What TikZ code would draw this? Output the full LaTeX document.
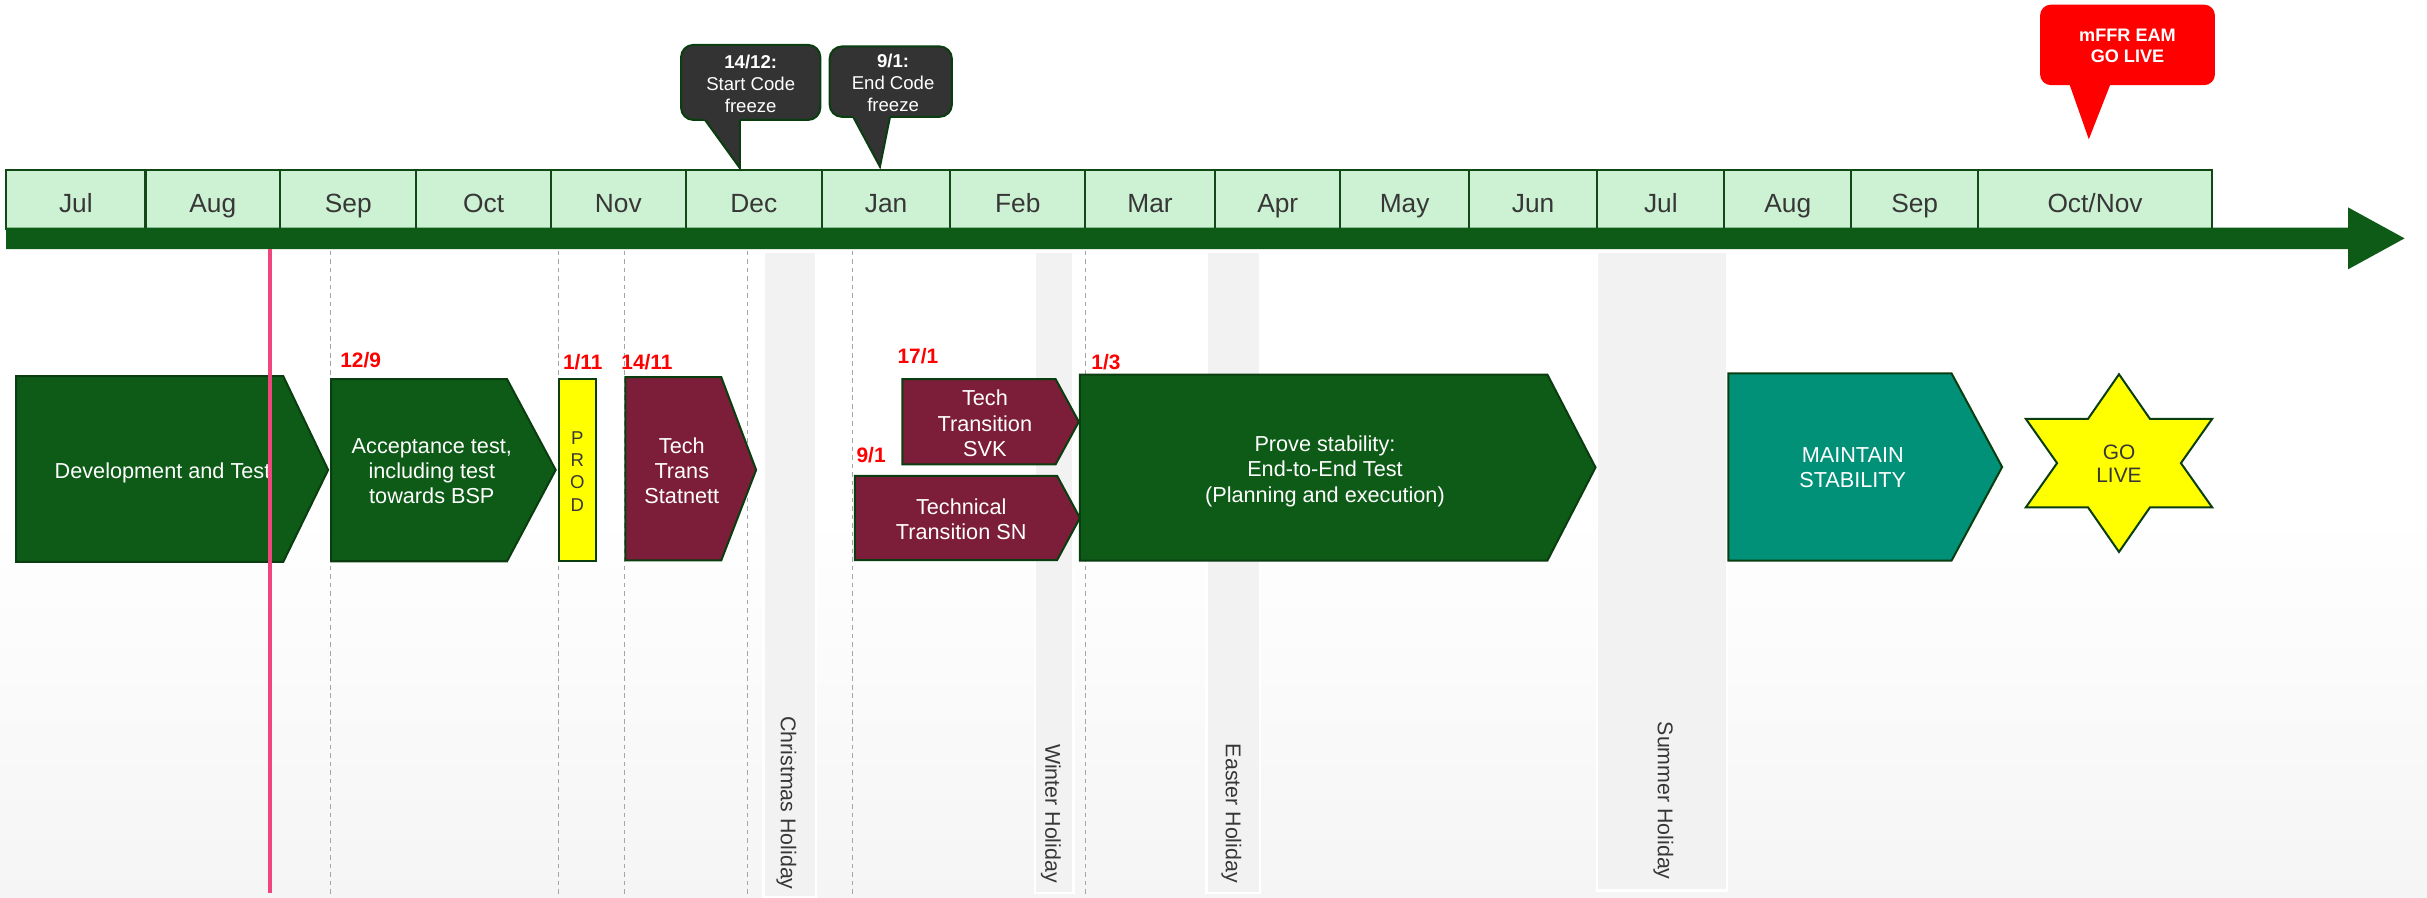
\documentclass[tikz,border=0pt]{standalone}
\usepackage{fontspec}
\setmainfont{Liberation Sans}
\definecolor{dgreen}{RGB}{13,91,23}
\definecolor{cborder}{RGB}{10,62,16}
\definecolor{maroonc}{RGB}{124,30,58}
\definecolor{tealc}{RGB}{0,145,120}
\definecolor{mfill}{RGB}{205,242,211}
\definecolor{mborder}{RGB}{18,72,22}
\definecolor{cgray}{RGB}{51,51,51}
\definecolor{pinkline}{RGB}{240,70,125}
\definecolor{holfill}{RGB}{242,242,242}
\definecolor{dashgray}{RGB}{165,165,165}
\definecolor{txtgray}{RGB}{55,55,55}
\definecolor{bggray}{RGB}{245,245,245}
\definecolor{datered}{RGB}{255,0,0}
\definecolor{yel}{RGB}{255,255,0}
\begin{document}
\begin{tikzpicture}[x=1pt,y=-1pt,
  monthbox/.style={draw=mborder,fill=mfill,line width=1.3pt,minimum height=38.5pt,inner sep=0pt},
  monthtxt/.style={font=\fontsize{17}{20}\selectfont,text=txtgray,inner sep=0pt,anchor=base},
  chevg/.style={fill=dgreen,draw=cborder,line width=1.3pt},
  chevm/.style={fill=maroonc,draw=cborder,line width=1.3pt},
  chevt/.style={fill=tealc,draw=cborder,line width=1.3pt},
  ctext/.style={text=white,font=\fontsize{14}{16.3}\selectfont,align=center,inner sep=0pt},
  datelbl/.style={text=datered,font=\bfseries\fontsize{13.5}{16}\selectfont,inner sep=0pt},
  holbar/.style={fill=holfill,draw=white,line width=1.5pt,inner sep=0pt,anchor=north west},
  holtxt/.style={text=txtgray,font=\fontsize{13.8}{16}\selectfont,inner sep=0pt,rotate=-90,anchor=east},
  dashln/.style={draw=dashgray,dash pattern=on 3pt off 2.5pt,line width=0.6pt},
  callbox/.style={fill=cgray,draw=cborder,line width=1.3pt,rounded corners=8pt,inner sep=0pt},
  calltxt/.style={text=white,font=\fontsize{12}{14.3}\selectfont,align=center,inner sep=0pt},
  darktxt/.style={text=txtgray,align=center,inner sep=0pt},
]
\useasboundingbox (0,0) rectangle (1568,580);
\fill[white] (0,0) rectangle (1568,580);
\shade[top color=white,bottom color=bggray] (0,330) rectangle (1568,580);

% holiday bars
\node[holbar,minimum width=34pt,minimum height=417pt] (hx) at (492.5,162) {};
\node[holtxt] (hxt) at (508,575) {Christmas Holiday};
\node[holbar,minimum width=25pt,minimum height=414pt] (hw) at (667.7,162) {};
\node[holtxt] (hwt) at (679,570.6) {Winter Holiday};
\node[holbar,minimum width=34.5pt,minimum height=414pt] (he) at (778.7,162) {};
\node[holtxt] (het) at (795.5,570.6) {Easter Holiday};
\node[holbar,minimum width=84pt,minimum height=412.5pt] (hs) at (1031,162) {};
\node[holtxt] (hst) at (1074.6,568.5) {Summer Holiday};

% dashed guide lines
\foreach \xx in {213.8,361,403.6,483.2,551,701.3}
  \draw[dashln] (\xx,162) -- (\xx,578);

% month boxes
\foreach \l/\r/\t [count=\i] in {4/94/Jul,94/181/Aug,181/269/Sep,269/356/Oct,356/443/Nov,443/531/Dec,531/614/Jan,614/701/Feb,701/785/Mar,785/866/Apr,866/949/May,949/1032/Jun,1032/1114/Jul,1114/1196/Aug,1196/1278/Sep,1278/1429/{Oct/Nov}}{
  \pgfmathsetmacro\w{\r-\l}
  \pgfmathsetmacro\c{(\l+\r)/2}
  \node[monthbox,minimum width=\w pt] (m\i) at (\c,128.8) {};
  \node[monthtxt] (mt\i) at (\c,137.5) {\t};
}

% time axis arrow
\fill[dgreen] (4,147) -- (1517,147) -- (1517,134) -- (1553.5,154) -- (1517,174) -- (1517,161) -- (4,161) -- cycle;

% callouts
\node[callbox,minimum width=90pt,minimum height=48.5pt] (cb1) at (485,53.25) {};
\fill[cgray] (454.3,76) -- (478,76) -- (478,108.6) -- cycle;
\draw[cborder,line width=1.3pt,line join=miter] (455.5,77.5) -- (478,108.6) -- (478,77.5);
\node[calltxt] (ct1) at (485,54) {\textbf{14/12:}\\Start Code\\freeze};

\node[callbox,minimum width=79pt,minimum height=45.5pt] (cb2) at (575.5,52.75) {};
\fill[cgray] (550.3,74) -- (575,74) -- (568.5,107.7) -- cycle;
\draw[cborder,line width=1.3pt,line join=miter] (551.2,75.5) -- (568.5,107.7) -- (575,75.5);
\node[calltxt] (ct2) at (577,53.5) {\textbf{9/1:}\\End Code\\freeze};

\node[fill=datered,rounded corners=7pt,minimum width=113pt,minimum height=52pt,inner sep=0pt] (cb3) at (1374.5,29) {};
\fill[datered] (1336.5,53) -- (1364,53) -- (1349.5,90) -- cycle;
\node[text=white,font=\bfseries\fontsize{11.7}{14}\selectfont,align=center,inner sep=0pt] (ct3) at (1374.5,29.7) {mFFR EAM\\GO LIVE};

% phases
\draw[chevg] (10.4,243) -- (183,243) -- (212,303.6) -- (183,363) -- (10.4,363) -- cycle;
\node[ctext] (dev) at (105,305.2) {Development and Test};

\draw[chevg] (214,245) -- (327.6,245) -- (359,303.6) -- (327.6,362.6) -- (214,362.6) -- cycle;
\node[ctext] (acc) at (279,304.5) {Acceptance test,\\including test\\towards BSP};

\node[draw=cborder,fill=yel,line width=1.3pt,minimum width=24pt,minimum height=117.5pt,inner sep=0pt] (prod) at (373,303.8) {};
\node[darktxt,font=\fontsize{12}{14.4}\selectfont] (prodt) at (373,304.5) {P\\R\\O\\D};

\draw[chevm] (404,243.7) -- (466,243.7) -- (488.5,303.6) -- (466,362) -- (404,362) -- cycle;
\node[ctext] (stat) at (440.5,304) {Tech\\Trans\\Statnett};

\draw[chevm] (583,245) -- (682,245) -- (697,272.5) -- (682,300) -- (583,300) -- cycle;
\node[ctext] (svk) at (636.3,273.5) {Tech\\Transition\\SVK};

\draw[chevm] (552.3,307.5) -- (683,307.5) -- (697.7,334.6) -- (683,361.8) -- (552.3,361.8) -- cycle;
\node[ctext] (sn) at (621,335.4) {Technical\\Transition SN};

\draw[chevg] (697.7,242) -- (999.7,242) -- (1030.8,302) -- (999.7,362.2) -- (697.7,362.2) -- cycle;
\node[ctext] (prove) at (856,304.5) {Prove stability:\\End-to-End Test\\(Planning and execution)};

\draw[chevt] (1116.7,241.2) -- (1260.8,241.2) -- (1293.5,301.7) -- (1260.8,362.2) -- (1116.7,362.2) -- cycle;
\node[ctext] (maint) at (1197,302) {MAINTAIN\\STABILITY};

\draw[fill=yel,draw=cborder,line width=1.3pt] (1369,241.8) -- (1389,270.6) -- (1429.2,270.6) -- (1409,299.2) -- (1429.2,327.8) -- (1389,327.8) -- (1369,356.6) -- (1349,327.8) -- (1308.8,327.8) -- (1329,299.2) -- (1308.8,270.6) -- (1349,270.6) -- cycle;
\node[darktxt,font=\fontsize{13.5}{15.1}\selectfont] (golive) at (1369,299.4) {GO\\LIVE};

% dates
\node[datelbl] (d1) at (233,232.5) {12/9};
\node[datelbl] (d2) at (376.5,234) {1/11};
\node[datelbl] (d3) at (418,234) {14/11};
\node[datelbl] (d4) at (593,230) {17/1};
\node[datelbl] (d5) at (562.8,294) {9/1};
\node[datelbl] (d6) at (714.5,234) {1/3};

% today line
\draw[pinkline,line width=2.6pt] (174.5,161) -- (174.5,577);
\end{tikzpicture}
\end{document}
